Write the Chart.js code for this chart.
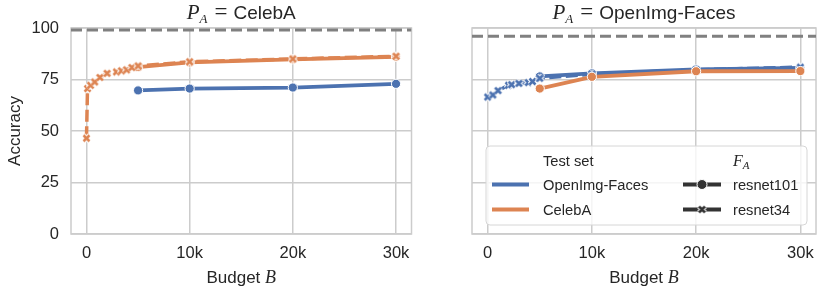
<!DOCTYPE html>
<html>
<head>
<meta charset="utf-8">
<script src="https://cdn.jsdelivr.net/npm/chart.js@4"></script>
<style>
  body { margin: 0; background: #fff; }
  #wrap { position: relative; width: 831px; height: 295px; }
  .panel { position: absolute; top: 0; height: 295px; }
</style>
</head>
<body>
<div id="wrap">
  <div class="panel" style="left:0;width:420px"><canvas id="left"></canvas></div>
  <div class="panel" style="left:420px;width:411px"><canvas id="right"></canvas></div>
</div>
<script>
// axis ticks
const xTicks = [0, 10000, 20000, 30000];
const yTicks = [0, 25, 50, 75, 100];

// resnet101 was only run on the large budgets
const bigBudgets = [5000, 10000, 20000, 30000];

// P_A = CelebA
const celebaOnOpenImg101 = [69.7, 70.6, 71.1, 72.9];
const celebaOnCeleb101 = [81.0, 83.3, 84.8, 86.0];
const celebaOnCeleb34Budgets = [0, 100, 400, 800, 1300, 2000, 2900, 3400, 3900, 4400, 5000, 10000, 20000, 30000];
const celebaOnCeleb34 = [46.5, 70.6, 72.2, 73.8, 76.0, 78.0, 78.7, 79.2, 79.7, 80.8, 81.6, 83.6, 85.0, 86.3];
const celebaOracle = 99;

// P_A = OpenImg-Faces
const openOnOpenImg101 = [76.5, 78.0, 79.9, 80.6];
const openOnCeleb101 = [70.6, 76.3, 79.0, 79.1];
const openOnOpenImg34Budgets = [0, 500, 1000, 2000, 2300, 3000, 3900, 4300, 5000, 10000, 20000, 30000];
const openOnOpenImg34 = [66.5, 67.5, 69.6, 72.2, 72.5, 73.1, 73.5, 74.0, 75.6, 77.6, 79.7, 81.0];
const openOracle = 96;

const BLUE = '#4c72b0';
const ORANGE = '#dd8452';
const GRID = '#cccccc';
const TEXT = '#262626';
const SANS = '"Liberation Sans", Arial, sans-serif';
const SERIF = '"Liberation Serif", "DejaVu Serif", serif';
const xMin = -1500, xMax = 31500;

function pts(xs, ys) {
  return xs.map((x, i) => ({ x: x, y: ys[i] }));
}

// filled "X" marker with a white edge, like matplotlib's 'X'
function xMarker(color, size) {
  const c = document.createElement('canvas');
  c.width = size; c.height = size;
  const g = c.getContext('2d');
  const a = 2.5, b = size - 2.5;
  const cross = () => {
    g.beginPath();
    g.moveTo(a, a); g.lineTo(b, b);
    g.moveTo(b, a); g.lineTo(a, b);
    g.stroke();
  };
  g.strokeStyle = '#fff'; g.lineWidth = 4.6; cross();
  g.strokeStyle = color; g.lineWidth = 2.6; cross();
  return c;
}

function res101(label, color, ys, order) {
  return {
    label: label, data: pts(bigBudgets, ys), order: order,
    borderColor: color, backgroundColor: color, borderWidth: 3.8,
    pointStyle: 'circle', pointRadius: 4.6, pointBorderColor: '#fff', pointBorderWidth: 1,
    pointBackgroundColor: color
  };
}

function res34(label, color, xs, ys, order) {
  return {
    label: label, data: pts(xs, ys), order: order,
    borderColor: color, backgroundColor: color, borderWidth: 3.5, borderDash: [12, 4.5],
    pointStyle: xMarker(color, 11), pointRadius: 5
  };
}

function oracle(v) {
  return {
    label: 'oracle', data: pts([xMin, xMax], [v, v]), order: 9,
    borderColor: '#808080', borderWidth: 3, borderDash: [11, 5], pointRadius: 0
  };
}

function drawParts(ctx, parts, x, y, align) {
  let total = 0;
  parts.forEach(p => { ctx.font = p.font; p.w = ctx.measureText(p.text).width + (p.gap || 0); total += p.w; });
  let cx = align === 'center' ? x - total / 2 : x;
  parts.forEach(p => {
    ctx.font = p.font;
    ctx.fillText(p.text, cx, y + (p.dy || 0));
    cx += p.w;
  });
}

const panelDeco = {
  id: 'panelDeco',
  beforeDatasetsDraw(chart) {
    const { ctx, chartArea: a } = chart;
    ctx.save();
    ctx.strokeStyle = GRID;
    ctx.lineWidth = 1.5;
    ctx.strokeRect(a.left, a.top, a.right - a.left, a.bottom - a.top);
    ctx.restore();
  },
  afterDraw(chart, args, o) {
    const { ctx, chartArea: a } = chart;
    const cx = (a.left + a.right) / 2;
    ctx.save();
    ctx.fillStyle = TEXT;
    ctx.textBaseline = 'alphabetic';
    // panel title
    drawParts(ctx, [
      { text: 'P', font: 'italic 21px ' + SERIF },
      { text: 'A', font: 'italic 13px ' + SERIF, dy: 4, gap: 7 },
      { text: '=', font: '23px ' + SERIF, gap: 6 },
      { text: o.title, font: '19px ' + SANS }
    ], cx, 18.5, 'center');
    // x axis title
    drawParts(ctx, [
      { text: 'Budget ', font: '17px ' + SANS },
      { text: 'B', font: 'italic 18px ' + SERIF }
    ], cx, 283, 'center');
    // y axis title
    if (o.yTitle) {
      ctx.save();
      ctx.translate(15, (a.top + a.bottom) / 2);
      ctx.rotate(-Math.PI / 2);
      ctx.textAlign = 'center';
      ctx.textBaseline = 'middle';
      ctx.font = '17px ' + SANS;
      ctx.fillText(o.yTitle, 0, 0);
      ctx.restore();
    }
    if (o.legend) drawLegend(ctx, a);
    ctx.restore();
  }
};

function drawLegend(ctx, a) {
  const L = a.left + 14, R = a.right - 9, T = a.bottom - 88, B = a.bottom - 9;
  ctx.save();
  ctx.beginPath();
  ctx.roundRect(L, T, R - L, B - T, 4);
  ctx.fillStyle = 'rgba(255,255,255,0.8)';
  ctx.fill();
  ctx.strokeStyle = '#d6d6d6';
  ctx.lineWidth = 1;
  ctx.stroke();

  const font = '14.7px ' + SANS;
  const rows = [T + 20, T + 44, T + 69];
  const c1 = L + 57, c2 = L + 247;
  ctx.fillStyle = TEXT;
  ctx.textBaseline = 'alphabetic';
  ctx.font = font;
  ctx.fillText('Test set', c1, rows[0]);
  ctx.fillText('OpenImg-Faces', c1, rows[1]);
  ctx.fillText('CelebA', c1, rows[2]);
  drawParts(ctx, [
    { text: 'F', font: 'italic 16px ' + SERIF },
    { text: 'A', font: 'italic 11px ' + SERIF, dy: 3 }
  ], c2, rows[0], 'left');
  ctx.font = font;
  ctx.fillText('resnet101', c2, rows[1]);
  ctx.fillText('resnet34', c2, rows[2]);

  const seg = (x0, x1, y, color) => {
    ctx.beginPath();
    ctx.moveTo(x0, y); ctx.lineTo(x1, y);
    ctx.strokeStyle = color; ctx.lineWidth = 4; ctx.stroke();
  };
  seg(L + 6, L + 43, rows[1] - 5.5, BLUE);
  seg(L + 6, L + 43, rows[2] - 5.5, ORANGE);
  const dark = '#333333';
  seg(L + 197, L + 235, rows[1] - 5.5, dark);
  seg(L + 197, L + 235, rows[2] - 5.5, dark);
  ctx.beginPath();
  ctx.arc(L + 216, rows[1] - 5.5, 5, 0, Math.PI * 2);
  ctx.fillStyle = dark; ctx.fill();
  ctx.strokeStyle = '#fff'; ctx.lineWidth = 1; ctx.stroke();
  const xm = xMarker(dark, 11);
  ctx.drawImage(xm, L + 216 - 5.5, rows[2] - 5.5 - 5.5);
  ctx.restore();
}

function makePanel(id, datasets, deco, yWidth, padRight, showYTicks) {
  return new Chart(document.getElementById(id), {
    type: 'line',
    data: { datasets: datasets },
    options: {
      responsive: true,
      maintainAspectRatio: false,
      animation: false,
      events: [],
      layout: { padding: { top: 28, right: padRight, left: 0, bottom: 0 } },
      plugins: { legend: { display: false }, tooltip: { enabled: false }, panelDeco: deco },
      scales: {
        x: {
          type: 'linear', min: xMin, max: xMax,
          afterBuildTicks: s => { s.ticks = xTicks.map(v => ({ value: v })); },
          afterFit: s => { s.height = 61; },
          grid: { color: GRID, lineWidth: 1.5, drawTicks: false },
          border: { display: false },
          ticks: {
            padding: 10, color: TEXT, maxRotation: 0,
            font: { family: SANS, size: 16.5 },
            callback: v => v === 0 ? '0' : (v / 1000) + 'k'
          }
        },
        y: {
          min: 0, max: 100,
          afterBuildTicks: s => { s.ticks = yTicks.map(v => ({ value: v })); },
          afterFit: s => { s.width = yWidth; },
          grid: { color: GRID, lineWidth: 1.5, drawTicks: false },
          border: { display: false },
          ticks: {
            display: showYTicks, padding: 12, color: TEXT,
            font: { family: SANS, size: 16.5 }
          }
        }
      }
    },
    plugins: [panelDeco]
  });
}

makePanel('left', [
  oracle(celebaOracle),
  res101('OpenImg-Faces / resnet101', BLUE, celebaOnOpenImg101, 4),
  res101('CelebA / resnet101', ORANGE, celebaOnCeleb101, 2),
  res34('CelebA / resnet34', ORANGE, celebaOnCeleb34Budgets, celebaOnCeleb34, 1)
], { title: 'CelebA', yTitle: 'Accuracy' }, 71, 7, true);

makePanel('right', [
  oracle(openOracle),
  res101('OpenImg-Faces / resnet101', BLUE, openOnOpenImg101, 4),
  res34('OpenImg-Faces / resnet34', BLUE, openOnOpenImg34Budgets, openOnOpenImg34, 3),
  res101('CelebA / resnet101', ORANGE, openOnCeleb101, 2)
], { title: 'OpenImg-Faces', legend: true }, 52, 15, false);
</script>
</body>
</html>
